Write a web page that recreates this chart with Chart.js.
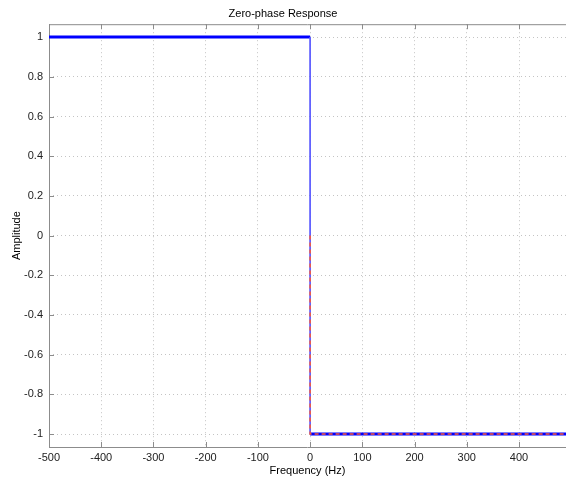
<!DOCTYPE html>
<html>
<head>
<meta charset="utf-8">
<script src="https://cdn.jsdelivr.net/npm/chart.js@4.4.1/dist/chart.umd.min.js"></script>
<style>
  html, body { margin: 0; padding: 0; background: #fff; }
  canvas { display: block; }
</style>
</head>
<body>
<canvas id="myChart" width="566" height="480"></canvas>
<script>
// zero-phase response
var blueX = [-500, 0, 0, 490];
var blueY = [1, 1, -1, -1];
var redX = [0, 0, 490];
var redY = [0, -1, -1];

var xTicks = [-500, -400, -300, -200, -100, 0, 100, 200, 300, 400];
var yTicks = [-1, -0.8, -0.6, -0.4, -0.2, 0, 0.2, 0.4, 0.6, 0.8, 1];

function pts(xs, ys) {
    return xs.map(function(x, i) { return {x: x, y: ys[i]}; });
}

var axisGray = '#8c8c8c';

// axis box lines + inward tick marks like matlab
var frame = {
    id: 'frame',
    beforeDatasetsDraw: function(chart) {
        var c = chart.ctx, a = chart.chartArea;
        var sx = chart.scales.x, sy = chart.scales.y;
        c.save();
        c.setLineDash([]);
        c.strokeStyle = axisGray;
        c.lineWidth = 1;
        c.beginPath();
        c.moveTo(a.left, a.top + 0.5);
        c.lineTo(a.right, a.top + 0.5);
        c.moveTo(a.left + 0.5, a.top);
        c.lineTo(a.left + 0.5, a.bottom);
        c.moveTo(a.left, a.bottom + 0.5);
        c.lineTo(a.right, a.bottom + 0.5);
        xTicks.forEach(function(v) {
            var px = Math.round(sx.getPixelForValue(v)) + 0.5;
            c.moveTo(px, a.top);
            c.lineTo(px, a.top + 5);
            c.moveTo(px, a.bottom);
            c.lineTo(px, a.bottom - 5);
        });
        yTicks.forEach(function(v) {
            var py = Math.round(sy.getPixelForValue(v)) + 0.5;
            c.moveTo(a.left, py);
            c.lineTo(a.left + 5, py);
        });
        c.stroke();
        c.restore();
    }
};

// vertical jump drawn thin, flat parts thick
function isJump(s) { return s.p0.parsed.x === s.p1.parsed.x; }

var ctx = document.getElementById('myChart');
var myChart = new Chart(ctx, {
    type: 'line',
    data: {
        datasets: [{
            data: pts(redX, redY),
            borderColor: '#ff5a34',
            borderWidth: 1.5,
            borderDash: [4, 3],
            pointRadius: 0,
            tension: 0,
            order: 0
        }, {
            data: pts(blueX, blueY),
            borderColor: '#0000ff',
            borderWidth: 3,
            pointRadius: 0,
            tension: 0,
            order: 1,
            segment: {
                borderWidth: function(s) { return isJump(s) ? 1 : 3; },
                borderColor: function(s) { return isJump(s) ? '#5a5aff' : '#0000ff'; }
            }
        }]
    },
    plugins: [frame],
    options: {
        responsive: false,
        animation: false,
        layout: { padding: 0 },
        plugins: {
            legend: { display: false },
            tooltip: { enabled: false },
            title: {
                display: true,
                text: 'Zero-phase Response',
                color: '#000',
                font: { family: 'Liberation Sans', size: 11, weight: 'normal' },
                padding: { top: 7, bottom: 4 }
            }
        },
        scales: {
            x: {
                type: 'linear',
                min: -500,
                max: 490,
                afterFit: function(s) { s.height = 33; },
                afterBuildTicks: function(s) { s.ticks = xTicks.map(function(v) { return {value: v}; }); },
                grid: {
                    color: '#c4c4c4',
                    tickLength: 0,
                    drawTicks: false
                },
                border: { display: false, dash: [1, 3] },
                ticks: {
                    color: '#222',
                    padding: 4,
                    maxRotation: 0,
                    autoSkip: false,
                    font: { family: 'Liberation Sans', size: 11 }
                },
                title: {
                    display: true,
                    text: 'Frequency (Hz)',
                    color: '#000',
                    font: { family: 'Liberation Sans', size: 11 },
                    padding: { top: 0, bottom: 2 }
                }
            },
            y: {
                min: -1.065,
                max: 1.065,
                afterFit: function(s) { s.width = 49; },
                afterBuildTicks: function(s) { s.ticks = yTicks.map(function(v) { return {value: v}; }); },
                grid: {
                    color: '#c4c4c4',
                    tickLength: 0,
                    drawTicks: false
                },
                border: { display: false, dash: [1, 3] },
                ticks: {
                    color: '#222',
                    padding: 6,
                    autoSkip: false,
                    font: { family: 'Liberation Sans', size: 11 },
                    callback: function(v) { return String(Math.round(v * 10) / 10); }
                },
                title: {
                    display: true,
                    text: 'Amplitude',
                    color: '#000',
                    font: { family: 'Liberation Sans', size: 11 },
                    padding: { top: 10, bottom: 0 }
                }
            }
        }
    }
});
</script>
</body>
</html>
